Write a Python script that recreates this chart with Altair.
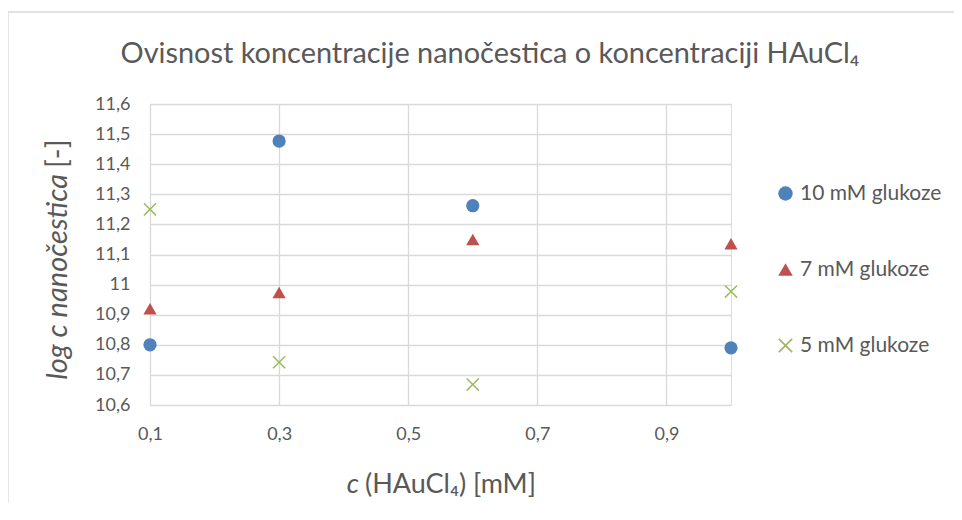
import altair as alt
import pandas as pd

x_vals = [0.1, 0.3, 0.6, 1.0]
glu10 = [10.80, 11.477, 11.262, 10.79]
glu7 = [10.92, 10.974, 11.15, 11.136]
glu5 = [11.25, 10.742, 10.668, 10.977]
series = ["10 mM glukoze", "7 mM glukoze", "5 mM glukoze"]
x_ticks = [0.1, 0.3, 0.5, 0.7, 0.9]
y_ticks = [10.6, 10.7, 10.8, 10.9, 11.0, 11.1, 11.2, 11.3, 11.4, 11.5, 11.6]

title_text = "Ovisnost koncentracije nanočestica o koncentraciji HAuCl₄"

rows = []
for name, vals in zip(series, [glu10, glu7, glu5]):
    for xv, yv in zip(x_vals, vals):
        rows.append({"c": xv, "logc": yv, "serija": name})
df = pd.DataFrame(rows)

FONT = "Lato"
GREY = "#595959"
X_PATH = ("M-1,-0.84L-0.84,-1L0,-0.16L0.84,-1L1,-0.84L0.16,0L1,0.84L0.84,1"
          "L0,0.16L-0.84,1L-1,0.84L-0.16,0Z")

lbl = "replace(toString(round(datum.value*10)/10), '.', ',')"

points = alt.Chart(df).mark_point(filled=True, opacity=1, size=175).encode(
    x=alt.X("c:Q", scale=alt.Scale(domain=[0.1, 1.0], nice=False, zero=False),
            axis=alt.Axis(values=x_ticks, title=None, labelExpr=lbl, domain=False,
                          ticks=False, labelPadding=20, labelFontSize=18,
                          labelFlush=False, labelColor=GREY, labelFont=FONT,
                          gridColor="#d9d9d9", gridWidth=1.3)),
    y=alt.Y("logc:Q", scale=alt.Scale(domain=[10.6, 11.6], nice=False, zero=False),
            axis=alt.Axis(values=y_ticks, title=None, labelExpr=lbl, domain=False,
                          ticks=False, labelPadding=20, labelFontSize=18,
                          labelFlush=False, labelColor=GREY, labelFont=FONT,
                          gridColor="#d9d9d9", gridWidth=1.3)),
    color=alt.Color("serija:N", scale=alt.Scale(domain=series,
                    range=["#4F81BD", "#C0504D", "#9BBB59"]),
                    legend=alt.Legend(title=None, orient="none", legendX=625,
                                      legendY=79, rowPadding=54, labelFontSize=21,
                                      labelColor=GREY, labelFont=FONT,
                                      symbolSize=210, labelOffset=4)),
    shape=alt.Shape("serija:N", scale=alt.Scale(domain=series,
                    range=["circle", "triangle-up", X_PATH]), legend=None),
)

title = alt.Chart().mark_text(font=FONT, fontSize=28.9, color=GREY, align="center",
                              baseline="alphabetic").encode(
    x=alt.value(340), y=alt.value(-41), text=alt.value(title_text))

xt1 = alt.Chart().mark_text(font=FONT, fontSize=27, color=GREY, align="right",
                            fontStyle="italic", baseline="alphabetic").encode(
    x=alt.value(209), y=alt.value(389), text=alt.value("c"))
xt2 = alt.Chart().mark_text(font=FONT, fontSize=27, color=GREY, align="left",
                            baseline="alphabetic").encode(
    x=alt.value(215), y=alt.value(389), text=alt.value("(HAuCl₄) [mM]"))

yt1 = alt.Chart().mark_text(font=FONT, fontSize=29, color=GREY, align="right",
                            fontStyle="italic", baseline="middle", angle=270).encode(
    x=alt.value(-92), y=alt.value(70), text=alt.value("log c nanočestica"))
yt2 = alt.Chart().mark_text(font=FONT, fontSize=29, color=GREY, align="left",
                            baseline="middle", angle=270).encode(
    x=alt.value(-92), y=alt.value(64), text=alt.value("[-]"))

border_top = alt.Chart().mark_rule(color="#d9d9d9", strokeWidth=1.3, clip=False).encode(
    x=alt.value(-142), x2=alt.value(812), y=alt.value(-92))
border_left = alt.Chart().mark_rule(color="#d9d9d9", strokeWidth=1.3, clip=False).encode(
    x=alt.value(-142), y=alt.value(-92), y2=alt.value(416))

chart = alt.layer(border_top, border_left, points, title, xt1, xt2, yt1, yt2).properties(
    width=581, height=301,
    autosize=alt.AutoSizeParams(type="none"),
    padding={"left": 142, "top": 96, "right": 223, "bottom": 98},
).configure_view(stroke=None).configure(background="white")

chart.save("out.html", embed_options={"renderer": "svg", "actions": False})
